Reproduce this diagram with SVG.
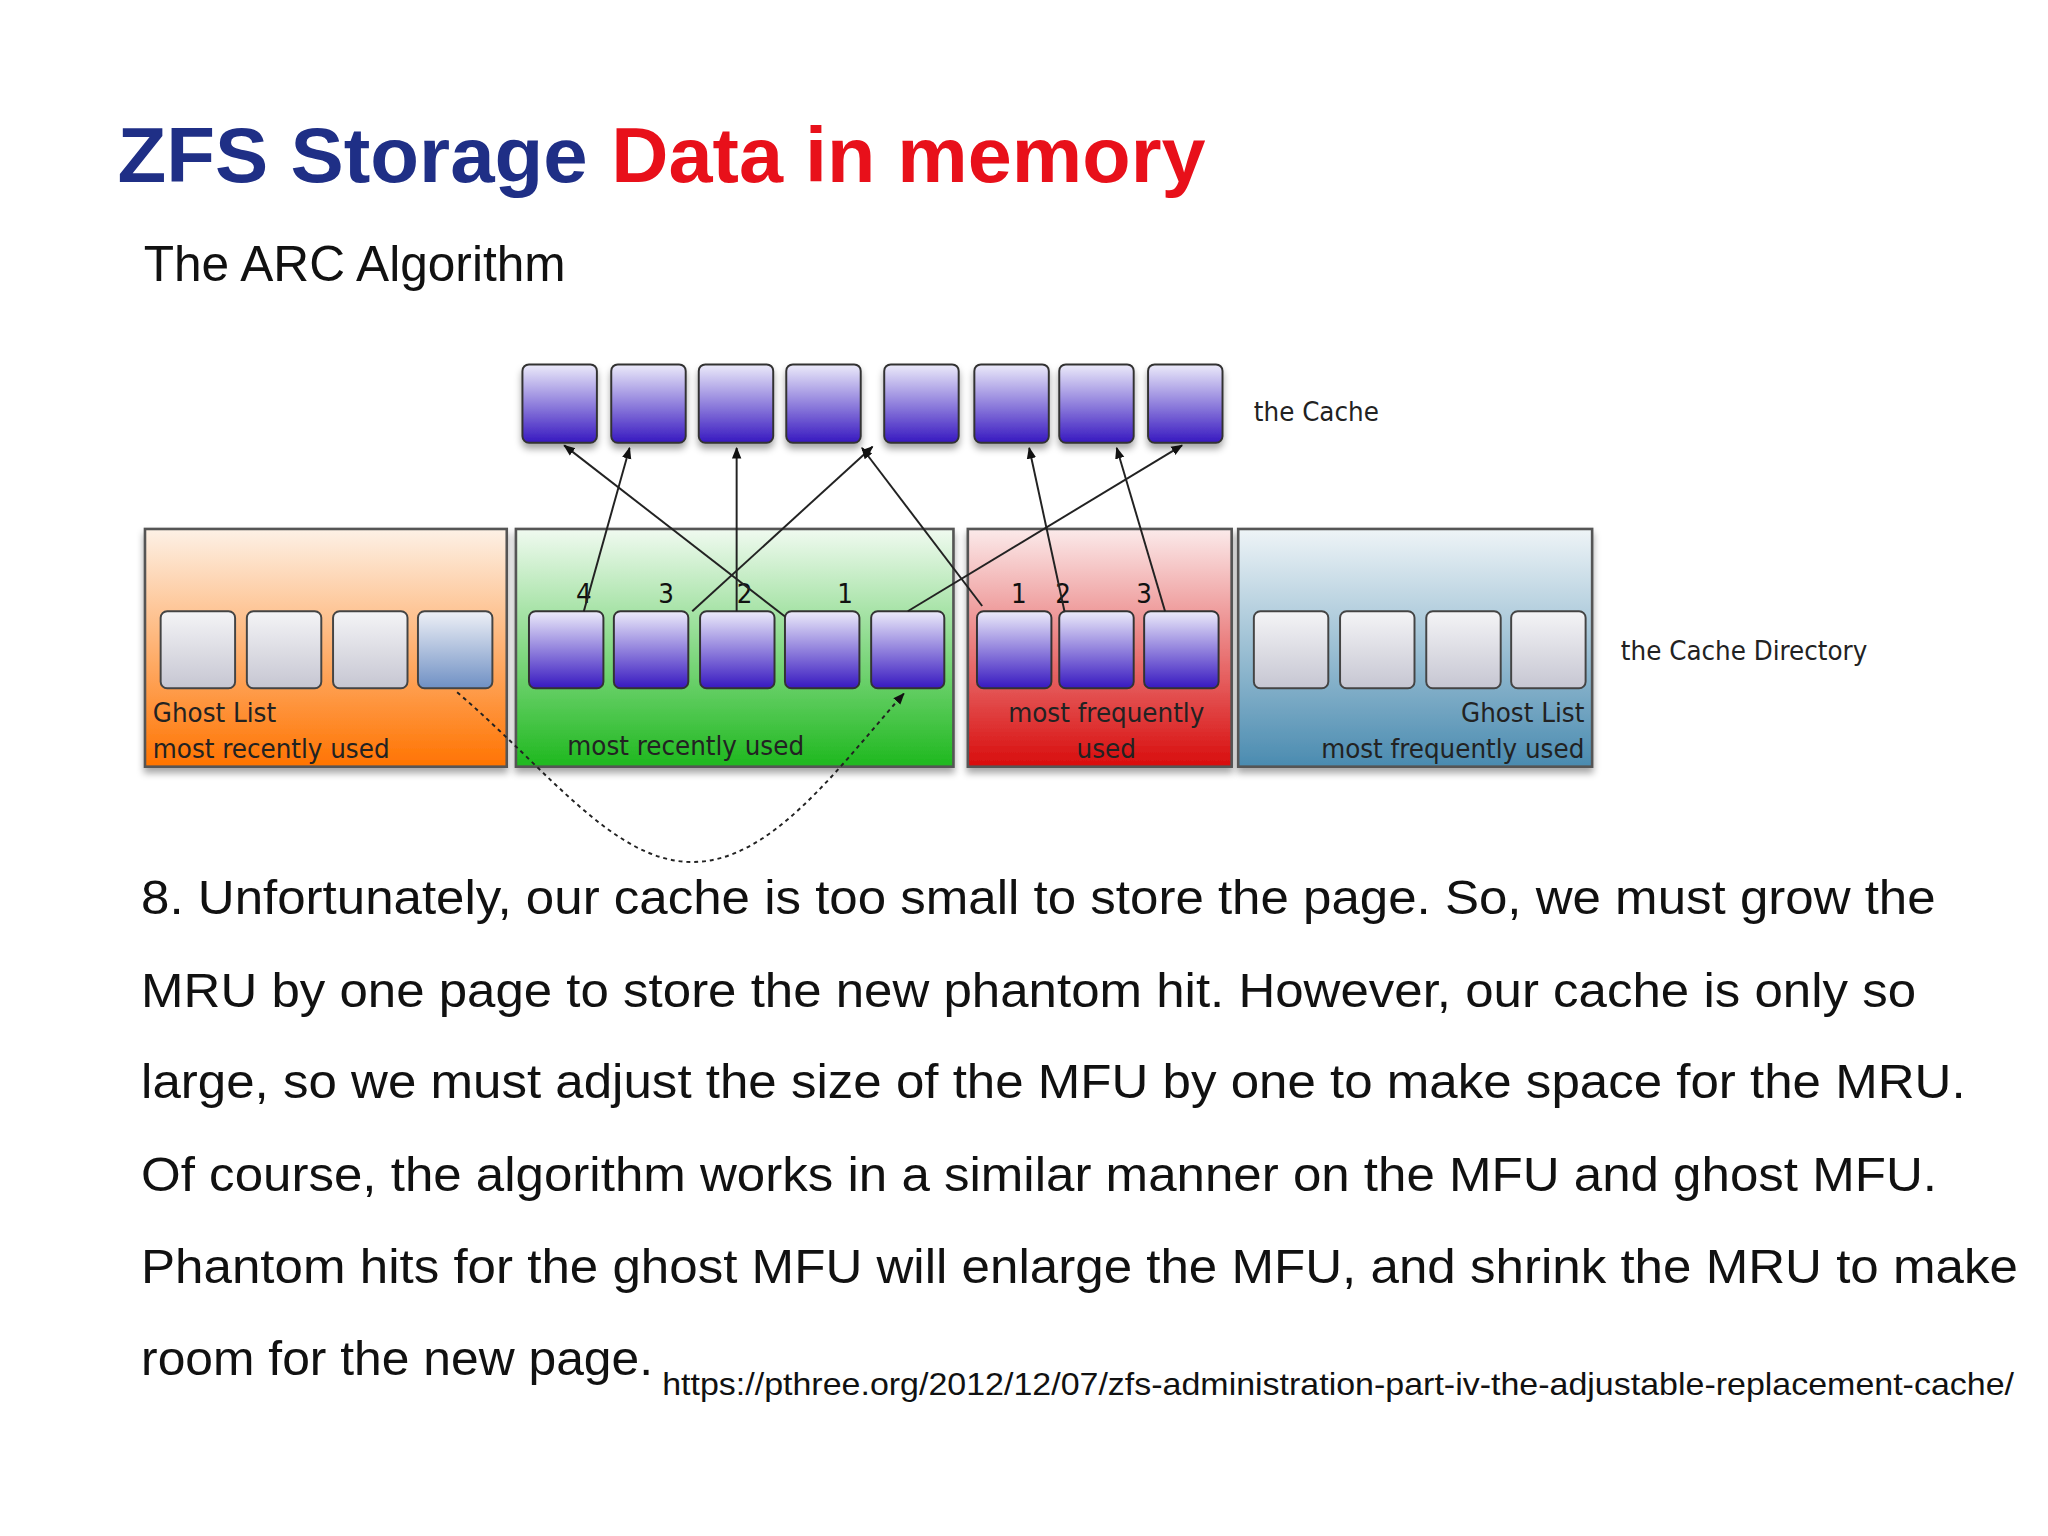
<svg xmlns="http://www.w3.org/2000/svg" width="2048" height="1536" viewBox="0 0 2048 1536">
<defs>
<linearGradient id="gc" x1="0" y1="0" x2="0" y2="1"><stop offset="0" stop-color="#ecebfa"/><stop offset="1" stop-color="#3718c0"/></linearGradient>
<linearGradient id="gg" x1="0" y1="0" x2="0" y2="1"><stop offset="0" stop-color="#f4f4f6"/><stop offset="1" stop-color="#c6c6d2"/></linearGradient>
<linearGradient id="gb" x1="0" y1="0" x2="0" y2="1"><stop offset="0" stop-color="#eef0f6"/><stop offset="1" stop-color="#6f90c4"/></linearGradient>
<linearGradient id="go" x1="0" y1="0" x2="0" y2="1"><stop offset="0" stop-color="#fdf1e6"/><stop offset="1" stop-color="#ff7300"/></linearGradient>
<linearGradient id="ggr" x1="0" y1="0" x2="0" y2="1"><stop offset="0" stop-color="#f0faf0"/><stop offset="1" stop-color="#1eb81e"/></linearGradient>
<linearGradient id="gr" x1="0" y1="0" x2="0" y2="1"><stop offset="0" stop-color="#fbeaea"/><stop offset="1" stop-color="#d80c0c"/></linearGradient>
<linearGradient id="gbl" x1="0" y1="0" x2="0" y2="1"><stop offset="0" stop-color="#eef4f7"/><stop offset="1" stop-color="#4a8bb0"/></linearGradient>
<marker id="ah" viewBox="0 0 10 10" refX="9" refY="5" markerWidth="9" markerHeight="9" orient="auto" markerUnits="userSpaceOnUse"><path d="M0,1 L10,5 L0,9 z" fill="#111"/></marker>
<filter id="sh" x="-10%" y="-10%" width="130%" height="140%"><feDropShadow dx="0" dy="4" stdDeviation="3" flood-color="#000" flood-opacity="0.35"/></filter>
</defs>
<style>
.c{fill:url(#gc);stroke:#333;stroke-width:1.5}
.g{fill:url(#gg);stroke:#444;stroke-width:1.5}
.big{stroke:#555;stroke-width:2}
.lb{font-family:"DejaVu Sans Condensed","DejaVu Sans",sans-serif;font-size:21px;fill:#222}
.n{font-family:"DejaVu Sans Condensed","DejaVu Sans",sans-serif;font-size:21px;fill:#111}
.p{font-family:"Liberation Sans",Arial,sans-serif;font-size:37px;fill:#111}
.ar{stroke:#222;stroke-width:1.5;fill:none;marker-end:url(#ah)}
</style>
<rect width="2048" height="1536" fill="#fff"/>
<g transform="scale(1.3061)">
<text x="90" y="139" font-family="Liberation Sans,Arial,sans-serif" font-weight="bold" font-size="60" fill="#1f2f86" textLength="360" lengthAdjust="spacingAndGlyphs">ZFS Storage</text>
<text x="468" y="139" font-family="Liberation Sans,Arial,sans-serif" font-weight="bold" font-size="60" fill="#e8101a" textLength="455" lengthAdjust="spacingAndGlyphs">Data in memory</text>
<text x="110" y="215" font-family="Liberation Sans,Arial,sans-serif" font-size="38" fill="#111">The ARC Algorithm</text>

<g id="cache" filter="url(#sh)">
<rect class="c" x="400" y="279" width="57" height="60" rx="5"/>
<rect class="c" x="468" y="279" width="57" height="60" rx="5"/>
<rect class="c" x="535" y="279" width="57" height="60" rx="5"/>
<rect class="c" x="602" y="279" width="57" height="60" rx="5"/>
<rect class="c" x="677" y="279" width="57" height="60" rx="5"/>
<rect class="c" x="746" y="279" width="57" height="60" rx="5"/>
<rect class="c" x="811" y="279" width="57" height="60" rx="5"/>
<rect class="c" x="879" y="279" width="57" height="60" rx="5"/>
</g>
<text class="lb" x="960" y="322">the Cache</text>

<g id="ghost-mru">
<rect class="big" x="111" y="405" width="277" height="182" fill="url(#go)" filter="url(#sh)"/>
<rect class="g" x="123" y="468" width="57" height="59" rx="5"/>
<rect class="g" x="189" y="468" width="57" height="59" rx="5"/>
<rect class="g" x="255" y="468" width="57" height="59" rx="5"/>
<rect x="320" y="468" width="57" height="59" rx="5" fill="url(#gb)" stroke="#444" stroke-width="1.5"/>
<text class="lb" x="117" y="553">Ghost List</text>
<text class="lb" x="117" y="580">most recently used</text>
</g>
<g id="mru">
<rect class="big" x="395" y="405" width="335" height="182" fill="url(#ggr)" filter="url(#sh)"/>
<rect class="c" x="405" y="468" width="57" height="59" rx="5"/>
<rect class="c" x="470" y="468" width="57" height="59" rx="5"/>
<rect class="c" x="536" y="468" width="57" height="59" rx="5"/>
<rect class="c" x="601" y="468" width="57" height="59" rx="5"/>
<rect class="c" x="667" y="468" width="56" height="59" rx="5"/>
<text class="n" x="447" y="462" text-anchor="middle">4</text>
<text class="n" x="510" y="462" text-anchor="middle">3</text>
<text class="n" x="570" y="462" text-anchor="middle">2</text>
<text class="n" x="647" y="462" text-anchor="middle">1</text>
<text class="lb" x="525" y="578" text-anchor="middle">most recently used</text>
</g>
<g id="mfu">
<rect class="big" x="741" y="405" width="202" height="182" fill="url(#gr)" filter="url(#sh)"/>
<rect class="c" x="748" y="468" width="57" height="59" rx="5"/>
<rect class="c" x="811" y="468" width="57" height="59" rx="5"/>
<rect class="c" x="876" y="468" width="57" height="59" rx="5"/>
<text class="n" x="780" y="462" text-anchor="middle">1</text>
<text class="n" x="814" y="462" text-anchor="middle">2</text>
<text class="n" x="876" y="462" text-anchor="middle">3</text>
<text class="lb" x="847" y="553" text-anchor="middle">most frequently</text>
<text class="lb" x="847" y="580" text-anchor="middle">used</text>
</g>
<g id="ghost-mfu">
<rect class="big" x="948" y="405" width="271" height="182" fill="url(#gbl)" filter="url(#sh)"/>
<rect class="g" x="960" y="468" width="57" height="59" rx="5"/>
<rect class="g" x="1026" y="468" width="57" height="59" rx="5"/>
<rect class="g" x="1092" y="468" width="57" height="59" rx="5"/>
<rect class="g" x="1157" y="468" width="57" height="59" rx="5"/>
<text class="lb" x="1213" y="553" text-anchor="end">Ghost List</text>
<text class="lb" x="1213" y="580" text-anchor="end">most frequently used</text>
</g>
<text class="lb" x="1241" y="505">the Cache Directory</text>

<g id="connectors">
<line class="ar" x1="447" y1="468" x2="482" y2="343"/>
<line class="ar" x1="530" y1="468" x2="668" y2="342"/>
<line class="ar" x1="564" y1="468" x2="564" y2="343"/>
<line class="ar" x1="601" y1="472" x2="432" y2="341"/>
<line class="ar" x1="695" y1="468" x2="905" y2="341"/>
<line class="ar" x1="752" y1="464" x2="660" y2="343"/>
<line class="ar" x1="815" y1="468" x2="788" y2="343"/>
<line class="ar" x1="892" y1="468" x2="855" y2="343"/>
<path class="ar" d="M350,530 C420,590 470,660 530,660 C590,660 640,590 692,531" stroke-dasharray="3,3"/>
</g>
</g>
<g transform="scale(1.3061)">
<text class="p" x="108" y="700" textLength="1374" lengthAdjust="spacingAndGlyphs">8. Unfortunately, our cache is too small to store the page. So, we must grow the</text>
<text class="p" x="108" y="771" textLength="1359" lengthAdjust="spacingAndGlyphs">MRU by one page to store the new phantom hit. However, our cache is only so</text>
<text class="p" x="108" y="841" textLength="1397" lengthAdjust="spacingAndGlyphs">large, so we must adjust the size of the MFU by one to make space for the MRU.</text>
<text class="p" x="108" y="912" textLength="1375" lengthAdjust="spacingAndGlyphs">Of course, the algorithm works in a similar manner on the MFU and ghost MFU.</text>
<text class="p" x="108" y="982" textLength="1437" lengthAdjust="spacingAndGlyphs">Phantom hits for the ghost MFU will enlarge the MFU, and shrink the MRU to make</text>
<text class="p" x="108" y="1053" textLength="392" lengthAdjust="spacingAndGlyphs">room for the new page.</text>
<text x="507" y="1068" font-family="Liberation Sans,Arial,sans-serif" font-size="24" fill="#111" textLength="1035" lengthAdjust="spacingAndGlyphs">https://pthree.org/2012/12/07/zfs-administration-part-iv-the-adjustable-replacement-cache/</text>
</g>
</svg>
